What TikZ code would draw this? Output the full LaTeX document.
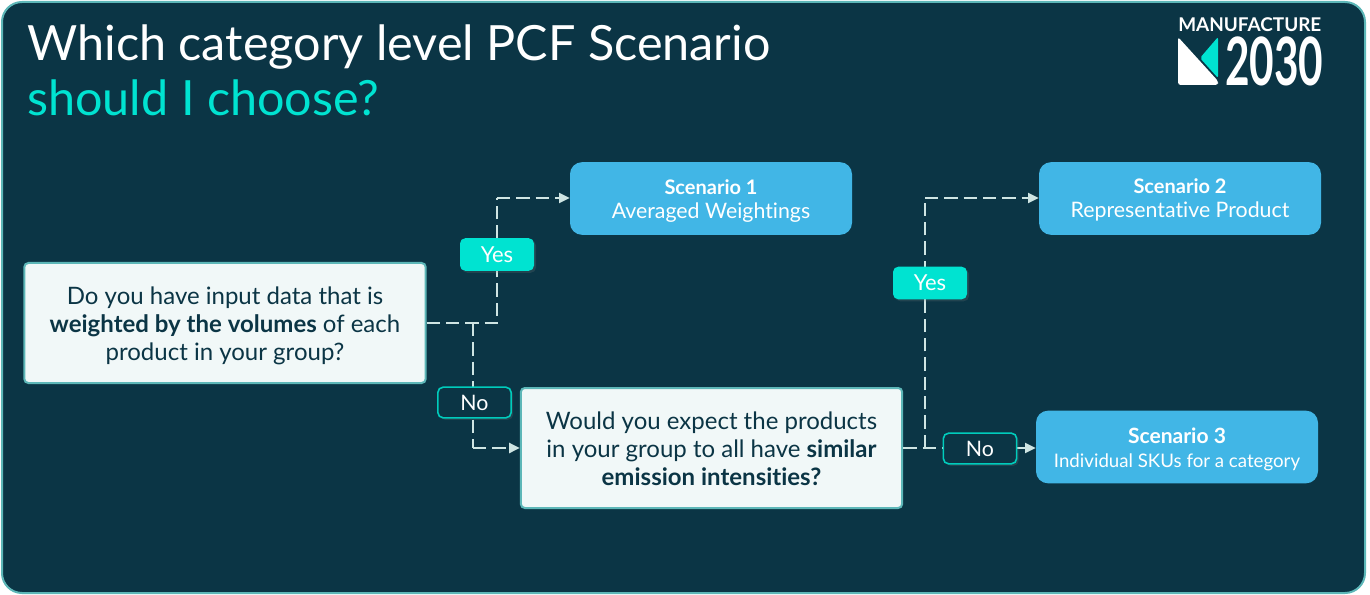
\documentclass[tikz,border=0pt]{standalone}
\usepackage{fontspec}
\usepackage{xcolor}
\usetikzlibrary{shadows}
\usetikzlibrary{arrows.meta}
\setmainfont{Lato}[Ligatures=NoCommon]
\definecolor{bgnavy}{HTML}{0B3545}
\definecolor{rimteal}{HTML}{5DB7B8}
\definecolor{aqua}{HTML}{00E3D1}
\definecolor{skyblue}{HTML}{41B6E6}
\definecolor{paper}{HTML}{F1F8F8}
\definecolor{dashgrey}{HTML}{CFE5E3}
\newcommand{\toprule}[1]{\rule{0pt}{#1pt}}
\tikzstyle{question}=[draw=rimteal, line width=1.5pt, fill=paper, rounded corners=3pt, text=bgnavy, align=center, font=\fontsize{18}{21}\selectfont, inner sep=0pt]
\tikzstyle{scenario}=[fill=skyblue, rounded corners=9pt, text=white, align=center, font=\fontsize{16}{18}\selectfont, inner sep=0pt]
\tikzstyle{yesbox}=[fill=aqua, rounded corners=4pt, text=white, font=\fontsize{16.5}{18}\selectfont, inner sep=0pt, minimum width=55.5pt, minimum height=24.5pt, drop shadow={opacity=0.2, shadow xshift=1.5pt, shadow yshift=-1.5pt}]
\tikzstyle{nobox}=[draw=aqua!90!black, line width=1.2pt, fill=bgnavy, rounded corners=4pt, text=white, font=\fontsize{16}{18}\selectfont, inner sep=0pt, minimum width=55pt, minimum height=23pt, drop shadow={opacity=0.2, shadow xshift=1.5pt, shadow yshift=-1.5pt}]
\tikzstyle{edge}=[draw=dashgrey, line width=1.5pt, dash pattern=on 10pt off 4.5pt]
\tikzstyle{tip}=[-{Triangle[length=8pt,width=7.5pt]}]
\tikzstyle{title}=[anchor=base west, inner sep=0pt, font=\fontsize{36.4}{42}\selectfont]
\begin{document}
\begin{tikzpicture}[x=0.75pt, y=-0.75pt]
            \useasboundingbox (0,0) rectangle (1370,595);
            \draw[draw=rimteal, line width=1.5pt, fill=bgnavy, rounded corners=15pt] (2,2) rectangle (1365,593);
            % title
            \node[title, text=white] (title1) at (27,61) {Which category level PCF Scenario};
            \node[title, text=aqua] (title2) at (27,116) {should I choose?};
            % logo
            \fill[white, rounded corners=2pt] (1178,37) -- (1218,81) -- (1218,85) -- (1178,85) -- cycle;
            \fill[aqua, rounded corners=1.5pt] (1218,37) -- (1218,78) -- (1200,58) -- cycle;
            \node[inner sep=0pt, anchor=west, text=white, font=\fontsize{14.2}{16}\bfseries\selectfont] (brand) at (1178,24.5) {MANUFACTURE};
            \node[inner sep=0pt, anchor=west, text=white, xscale=0.635, font=\fontsize{50}{52}\bfseries\selectfont] (year) at (1225,61.5) {2030};
            % boxes
            \node[question, minimum width=301pt, minimum height=90pt] (q1) at (225,323) {\toprule{17.6}Do you have input data that is\\\textbf{weighted by the volumes} of each\\product in your group?};
            \node[question, minimum width=286pt, minimum height=90pt] (q2) at (711.5,448) {\toprule{14.6}Would you expect the products\\in your group to all have \textbf{similar}\\\textbf{emission intensities?}};
            \node[scenario, minimum width=211.5pt, minimum height=54.5pt] (s1) at (711,198.5) {\toprule{15.5}\textbf{\fontsize{15}{18}\selectfont Scenario 1}\\Averaged Weightings};
            \node[scenario, minimum width=211.5pt, minimum height=54.5pt] (s2) at (1180,198.5) {\toprule{12.5}\textbf{\fontsize{15}{18}\selectfont Scenario 2}\\Representative Product};
            \node[scenario, minimum width=211.5pt, minimum height=54.5pt, font=\fontsize{14}{18}\selectfont] (s3) at (1177,447) {\toprule{14.8}\textbf{\fontsize{15.8}{18}\selectfont Scenario 3}\\Individual SKUs for a category};
            % joints
            \coordinate (a) at (473,323);
            \coordinate (b) at (497,323);
            \coordinate (c) at (497,198);
            \coordinate (d) at (473,448);
            \coordinate (e) at (925,448);
            \coordinate (f) at (925,198);
            \coordinate (g) at (1017,448);
            % edges
            \draw[edge] (q1.east |- a) -- (b) -- (c);
            \draw[edge, tip] (c) -- (c -| s1.west);
            \draw[edge] (a) -- (d);
            \draw[edge, tip] (d) -- (d -| q2.west);
            \draw[edge] (q2.east |- e) -- (g);
            \draw[edge] (e) -- (f);
            \draw[edge, tip] (f) -- (f -| s2.west);
            \draw[edge, tip] (g) -- (g -| s3.west);
            % labels
            \node[yesbox] (yes1) at (497,254.5) {Yes};
            \node[nobox] (no1) at (474.5,402.5) {No};
            \node[yesbox] (yes2) at (930,283) {Yes};
            \node[nobox] (no2) at (980,448.5) {No};
\end{tikzpicture}
\end{document}
